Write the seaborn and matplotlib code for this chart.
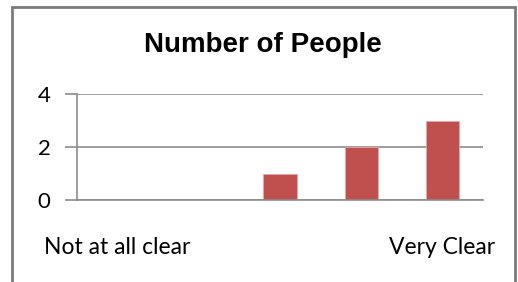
import numpy as np
import pandas as pd
import matplotlib
matplotlib.use("Agg")
import matplotlib.pyplot as plt
import seaborn as sns
from matplotlib.patches import Rectangle

# --- data ---
scale_points = [1, 2, 3, 4, 5]
people = [0, 0, 1, 2, 3]
tick_labels = ["Not at all clear", "", "", "", "Very Clear"]
title = "Number of People"

df = pd.DataFrame({"scale": scale_points, "people": people})

sns.set_style("white")
plt.rcParams["font.family"] = ["Lato", "DejaVu Sans"]
plt.rcParams["text.color"] = "black"
plt.rcParams["xtick.labelcolor"] = "black"
plt.rcParams["ytick.labelcolor"] = "black"

W, H = 518, 282
fig = plt.figure(figsize=(W / 100, H / 100), dpi=100)
ax = fig.add_axes([77 / W, 1 - 200 / H, (483 - 77) / W, (200 - 94) / H])

sns.barplot(data=df, x="scale", y="people", order=scale_points, color="#C0504D",
            width=0.41, saturation=1, edgecolor="#E8A8A6", linewidth=0.6, ax=ax)

ax.set_xlim(-0.5, len(scale_points) - 0.5)
ax.set_ylim(0, 4)
ax.set_yticks([0, 2, 4])
ax.yaxis.grid(True, color="#8c8c8c", linewidth=1.2)
ax.set_axisbelow(True)

# category labels centred, tick marks on the category boundaries
ax.set_xticks(range(len(scale_points)))
ax.set_xticklabels(tick_labels, fontsize=16.5)
ax.tick_params(axis="x", length=0, pad=27, labelcolor="black")
ax.set_xticks(np.arange(-0.5, len(scale_points)), minor=True)
ax.tick_params(axis="x", which="minor", length=8, width=1.2, color="#8c8c8c")
ax.tick_params(axis="y", length=9, width=1.2, color="#8c8c8c", labelsize=16, pad=10,
               left=True, labelcolor="black")

for side in ["top", "right"]:
    ax.spines[side].set_visible(False)
for side in ["left", "bottom"]:
    ax.spines[side].set_color("#8c8c8c")
    ax.spines[side].set_linewidth(1.2)

ax.set_xlabel("")
ax.set_ylabel("")

fig.text(263 / W, 1 - 45 / H, title, ha="center", va="center", fontsize=20,
         fontweight="bold", color="black", family=["Liberation Sans", "DejaVu Sans"])

# chart border
fig.add_artist(Rectangle((12 / W, -0.05), (515 - 12) / W, 1 - 7 / H + 0.05,
                         transform=fig.transFigure, fill=False,
                         edgecolor="#7a7a7a", linewidth=2))

fig.savefig("out.png", dpi=100, facecolor="white")
